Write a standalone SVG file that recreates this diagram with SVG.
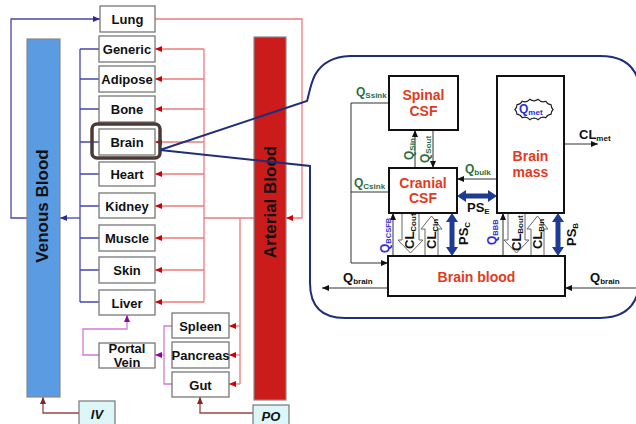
<svg xmlns="http://www.w3.org/2000/svg" width="636" height="424" viewBox="0 0 636 424">
<style>
text{font-family:"Liberation Sans",Arial,sans-serif;font-weight:bold}
.org{font-size:13px;text-anchor:middle;fill:#111}
.obox{fill:#fff;stroke:#777;stroke-width:1.3}
.bbox{fill:#fff;stroke:#111;stroke-width:2}
.red{fill:#E23A22;font-size:14px;text-anchor:middle}
.q{fill:#2E6E3E;font-size:12px}
.qb{fill:#2B2BE0;font-size:12px}
.k{fill:#111;font-size:13px}
.sub{font-size:8px}
.ven{fill:none;stroke:#4545AA;stroke-width:1.3}
.art{fill:none;stroke:#EE7A7A;stroke-width:1.3}
.por{fill:none;stroke:#D27AD2;stroke-width:1.3}
.brn{fill:none;stroke:#9A4545;stroke-width:1.3}
.thin{fill:none;stroke:#333;stroke-width:1}
.hol{fill:#fff;stroke:#666;stroke-width:1}
.ps{fill:#1F3A93}
</style>
<defs>
<marker id="mv" markerUnits="userSpaceOnUse" markerWidth="7" markerHeight="6" refX="7" refY="3" orient="auto"><path d="M0,0L7,3L0,6z" fill="#2A2A99"/></marker>
<marker id="mr" markerUnits="userSpaceOnUse" markerWidth="7" markerHeight="6" refX="7" refY="3" orient="auto"><path d="M0,0L7,3L0,6z" fill="#D00000"/></marker>
<marker id="mp" markerUnits="userSpaceOnUse" markerWidth="7" markerHeight="6" refX="7" refY="3" orient="auto"><path d="M0,0L7,3L0,6z" fill="#990099"/></marker>
<marker id="mb" markerUnits="userSpaceOnUse" markerWidth="7" markerHeight="6" refX="7" refY="3" orient="auto"><path d="M0,0L7,3L0,6z" fill="#882222"/></marker>
<marker id="mk" markerUnits="userSpaceOnUse" markerWidth="7" markerHeight="6" refX="7" refY="3" orient="auto"><path d="M0,0L7,3L0,6z" fill="#111"/></marker>
</defs>
<rect width="636" height="424" fill="#fff"/>

<g id="connectors">
<path class="ven" d="M27,218H11V19H100" marker-end="url(#mv)"/>
<path class="ven" d="M80,49V302M80,49H99M80,79H99M80,109H99M80,142H99M80,174H99M80,206H99M80,238H99M80,270H99M80,302H99"/>
<path class="ven" d="M80,218H60" marker-end="url(#mv)"/>
<path class="art" d="M155,19H302V218H286" marker-end="url(#mr)"/>
<path class="art" d="M204,49V302M254,218H204M240,218V384"/>
<path class="art" d="M204,49H155" marker-end="url(#mr)"/>
<path class="art" d="M204,79H155" marker-end="url(#mr)"/>
<path class="art" d="M204,109H155" marker-end="url(#mr)"/>
<path class="art" d="M204,142H155" marker-end="url(#mr)"/>
<path class="art" d="M204,174H155" marker-end="url(#mr)"/>
<path class="art" d="M204,206H155" marker-end="url(#mr)"/>
<path class="art" d="M204,238H155" marker-end="url(#mr)"/>
<path class="art" d="M204,270H155" marker-end="url(#mr)"/>
<path class="art" d="M204,302H155" marker-end="url(#mr)"/>
<path class="art" d="M240,326H229" marker-end="url(#mr)"/>
<path class="art" d="M240,355H229" marker-end="url(#mr)"/>
<path class="art" d="M240,384H229" marker-end="url(#mr)"/>
<path class="por" d="M172,326H164V384H172"/>
<path class="por" d="M164,355H155" marker-end="url(#mp)"/>
<path class="por" d="M99,355H83V329H127V315" marker-end="url(#mp)"/>
<path class="brn" d="M79,413H43V397" marker-end="url(#mb)"/>
<path class="brn" d="M253,413H200V397" marker-end="url(#mb)"/>
</g>

<g id="venous-blood">
<rect x="27" y="39" width="33" height="358" fill="#5A9BE2" stroke="#888" stroke-width="1.2"/>
<text transform="translate(48,206) rotate(-90)" text-anchor="middle" font-size="17" fill="#111">Venous Blood</text>
</g>
<g id="arterial-blood">
<rect x="254" y="37" width="32" height="363" fill="#CC1B1B" stroke="#888" stroke-width="1.2"/>
<text transform="translate(276,202) rotate(-90)" text-anchor="middle" font-size="17" fill="#111">Arterial Blood</text>
</g>

<g id="lung"><rect class="obox" x="100" y="6" width="55" height="26"/><text class="org" x="127.5" y="24">Lung</text></g>
<g id="generic"><rect class="obox" x="99" y="36" width="56" height="26"/><text class="org" x="127" y="54">Generic</text></g>
<g id="adipose"><rect class="obox" x="99" y="66" width="56" height="26"/><text class="org" x="127" y="84">Adipose</text></g>
<g id="bone"><rect class="obox" x="99" y="96" width="56" height="26"/><text class="org" x="127" y="114">Bone</text></g>
<g id="brain"><rect class="obox" x="99" y="129" width="56" height="26"/><text class="org" x="127" y="147">Brain</text>
<rect x="92" y="124" width="68" height="34" rx="5" fill="none" stroke="#4B3A36" stroke-width="3.5"/></g>
<g id="heart"><rect class="obox" x="99" y="162" width="56" height="24"/><text class="org" x="127" y="179">Heart</text></g>
<g id="kidney"><rect class="obox" x="99" y="193" width="56" height="25"/><text class="org" x="127" y="210.5">Kidney</text></g>
<g id="muscle"><rect class="obox" x="99" y="225" width="56" height="26"/><text class="org" x="127" y="243">Muscle</text></g>
<g id="skin"><rect class="obox" x="99" y="257" width="56" height="26"/><text class="org" x="127" y="275">Skin</text></g>
<g id="liver"><rect class="obox" x="99" y="290" width="56" height="25"/><text class="org" x="127" y="307.5">Liver</text></g>
<g id="portal-vein"><rect class="obox" x="99" y="343" width="56" height="25"/><text class="org" x="127" y="353">Portal</text><text class="org" x="127" y="367">Vein</text></g>
<g id="spleen"><rect class="obox" x="172" y="313" width="57" height="25"/><text class="org" x="200.5" y="330.5">Spleen</text></g>
<g id="pancreas"><rect class="obox" x="172" y="342" width="57" height="26"/><text class="org" x="200.5" y="360" font-size="12.8">Pancreas</text></g>
<g id="gut"><rect class="obox" x="172" y="372" width="57" height="25"/><text class="org" x="200.5" y="389.5">Gut</text></g>
<g id="iv"><rect x="79" y="401" width="36" height="30" fill="#DDF6F8" stroke="#777" stroke-width="1.2"/><text class="org" x="97" y="419" font-style="italic">IV</text></g>
<g id="po"><rect x="253" y="405" width="36" height="26" fill="#DDF6F8" stroke="#777" stroke-width="1.2"/><text class="org" x="271" y="421" font-style="italic">PO</text></g>

<g id="callout">
<path d="M160,150L307,101C309,95 310,85 315,75Q325,57 350,56L600,56Q640,56 640,96L640,275Q640,318 600,318L345,318Q310,318 310,283L310,166Z" fill="none" stroke="#1F2E7A" stroke-width="2"/>
</g>

<g id="brain-connectors">
<path class="thin" d="M389,103H351V263H388" marker-end="url(#mk)"/>
<path class="thin" d="M389,192H351"/>
<path class="thin" d="M415,168V130" marker-end="url(#mk)"/>
<path class="thin" d="M433,130V168" marker-end="url(#mk)"/>
<path class="thin" d="M497,179H457" marker-end="url(#mk)"/>
<path class="thin" d="M393,256V213" marker-end="url(#mk)"/>
<path class="thin" d="M503,256V213" marker-end="url(#mk)"/>
<path class="thin" d="M564,144H598" marker-end="url(#mk)"/>
<path class="thin" d="M388,288H322" marker-end="url(#mk)"/>
<path class="thin" d="M636,288H565" marker-end="url(#mk)"/>
<polygon class="hol" points="402,213 419,213 419,240 423,240 410.5,253 398,240 402,240"/>
<polygon class="hol" points="431.5,216 442,229 438,229 438,256 425,256 425,229 421,229"/>
<polygon class="hol" points="508,213 525,213 525,240 529,240 516.5,253 504,240 508,240"/>
<polygon class="hol" points="537.5,216 548,229 544,229 544,256 531,256 531,229 527,229"/>
<polygon class="ps" points="452,213 458,222 454.5,222 454.5,247 458,247 452,256 446,247 449.5,247 449.5,222 446,222"/>
<polygon class="ps" points="558,213 564,222 560.5,222 560.5,247 564,247 558,256 552,247 555.5,247 555.5,222 552,222"/>
<polygon class="ps" points="457,196 466,190 466,193.5 488,193.5 488,190 497,196 488,202 488,198.5 466,198.5 466,202"/>
</g>

<g id="spinal-csf"><rect class="bbox" x="389" y="76" width="69" height="54"/><text class="red" x="423.5" y="100">Spinal</text><text class="red" x="423.5" y="116">CSF</text></g>
<g id="cranial-csf"><rect class="bbox" x="389" y="168" width="68" height="45"/><text class="red" x="423" y="188">Cranial</text><text class="red" x="423" y="203">CSF</text></g>
<g id="brain-mass"><rect class="bbox" x="497" y="76" width="67" height="137"/><text class="red" x="530.5" y="161">Brain</text><text class="red" x="530.5" y="177">mass</text>
<path d="M553,109.5A7,7 0 0 0 551.1,114.1A7,7 0 0 0 545.8,117.7A7,7 0 0 0 538.2,119.7A7,7 0 0 0 529.8,119.7A7,7 0 0 0 522.2,117.7A7,7 0 0 0 516.9,114.1A7,7 0 0 0 515,109.5A7,7 0 0 0 516.9,104.9A7,7 0 0 0 522.2,101.3A7,7 0 0 0 529.8,99.3A7,7 0 0 0 538.2,99.3A7,7 0 0 0 545.8,101.3A7,7 0 0 0 551.1,104.9A7,7 0 0 0 553,109.5Z" fill="#fff" stroke="#222" stroke-width="1.2"/>
<text class="qb" x="519" y="113">Q<tspan class="sub" dy="2">met</tspan></text></g>
<g id="brain-blood"><rect class="bbox" x="388" y="256" width="177" height="40"/><text class="red" x="476.5" y="282" font-size="14.5">Brain blood</text></g>

<g id="brain-labels">
<text class="q" x="356" y="96">Q<tspan class="sub" dy="2">Ssink</tspan></text>
<text class="q" x="354" y="187">Q<tspan class="sub" dy="2">Csink</tspan></text>
<text class="q" x="465" y="173">Q<tspan class="sub" dy="2">bulk</tspan></text>
<text class="q" transform="translate(413,160) rotate(-90)">Q<tspan class="sub" dy="2">Sin</tspan></text>
<text class="q" transform="translate(429,163) rotate(-90)">Q<tspan class="sub" dy="2">Sout</tspan></text>
<text class="qb" transform="translate(389,253) rotate(-90)">Q<tspan font-size="7.5" dy="2">BCSFB</tspan></text>
<text class="qb" transform="translate(496,245) rotate(-90)">Q<tspan font-size="7.5" dy="2">BBB</tspan></text>
<text class="k" transform="translate(414,249) rotate(-90)">CL<tspan class="sub" dy="2">Cout</tspan></text>
<text class="k" transform="translate(436,249) rotate(-90)">CL<tspan class="sub" dy="2">Cin</tspan></text>
<text class="k" transform="translate(521,251) rotate(-90)">CL<tspan class="sub" dy="2">Bout</tspan></text>
<text class="k" transform="translate(542,249) rotate(-90)">CL<tspan class="sub" dy="2">Bin</tspan></text>
<text class="k" font-size="14" transform="translate(468,245) rotate(-90)">PS<tspan class="sub" dy="2">C</tspan></text>
<text class="k" font-size="14" transform="translate(576,246) rotate(-90)">PS<tspan class="sub" dy="2">B</tspan></text>
<text class="k" font-size="14" x="467" y="212">PS<tspan class="sub" dy="2">E</tspan></text>
<text class="k" x="579" y="139">CL<tspan class="sub" dy="2">met</tspan></text>
<text class="k" font-size="12" x="343" y="282">Q<tspan class="sub" dy="2">brain</tspan></text>
<text class="k" font-size="12" x="590" y="282">Q<tspan class="sub" dy="2">brain</tspan></text>
</g>
</svg>
